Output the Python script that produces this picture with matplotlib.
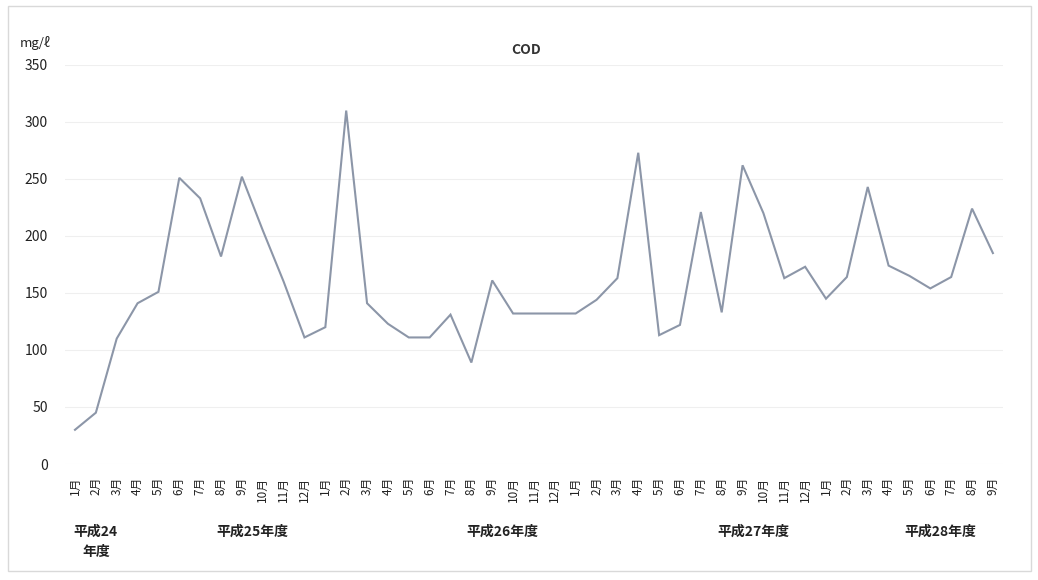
import matplotlib
matplotlib.use("Agg")
import matplotlib.pyplot as plt
from matplotlib.patches import Rectangle

plt.rcParams['font.family'] = ['Noto Sans CJK JP', 'DejaVu Sans']

# Monthly labels: H24 (Jan-Mar), H25-H27 (Apr-Mar), H28 (Apr-Sep)
months = (["1月", "2月", "3月"]
          + ["4月", "5月", "6月", "7月", "8月", "9月", "10月", "11月", "12月", "1月", "2月", "3月"] * 3
          + ["4月", "5月", "6月", "7月", "8月", "9月"])

# COD (mg/ℓ)
cod = [30, 45, 110, 141, 151,
       251, 233, 182, 252, 205, 160, 111, 120, 310, 141,
       123, 111, 111, 131, 89, 161, 132, 132, 132, 132, 144, 163,
       273, 113, 122, 221, 133, 262, 220, 163, 173, 145, 164, 243,
       174, 165, 154, 164, 224, 185]

# Fiscal-year group labels and the index ranges they span
year_labels = ["平成24\n年度", "平成25年度", "平成26年度", "平成27年度", "平成28年度"]
year_spans = [(0, 2), (3, 14), (15, 26), (27, 38), (39, 44)]

yticks = [0, 50, 100, 150, 200, 250, 300, 350]

fig = plt.figure(figsize=(10.38, 5.80), dpi=100)
ax = fig.add_axes([0.0622, 0.2, 0.9044, 0.688])

x = list(range(len(cod)))
ax.plot(x, cod, color="#8c96a8", linewidth=1.5, solid_joinstyle="miter")

ax.set_xlim(-0.5, len(cod) - 0.5)
ax.set_ylim(0, 350)
ax.set_yticks(yticks)
ax.set_yticklabels([str(v) for v in yticks], fontsize=10, color="#222222")
ax.set_xticks(x)
ax.set_xticklabels(months, rotation=90, fontsize=8.5, color="#222222", va="top")
ax.tick_params(axis="y", length=0, pad=12)
ax.tick_params(axis="x", length=0, pad=9)

for v in yticks:
    ax.axhline(v, color="#efefef", linewidth=0.8, zorder=0)

for s in ax.spines.values():
    s.set_visible(False)

ax.set_title("COD", fontsize=10, fontweight="bold", color="#333333", pad=8, x=0.492)
fig.text(0.019, 0.925, "mg/ℓ", fontsize=9.5, color="#222222", ha="left", va="center")

# Fiscal-year labels under the month ticks
for lab, (a, b) in zip(year_labels, year_spans):
    xc = (a + b) / 2
    ax.annotate(lab, xy=(xc, 0), xycoords=("data", "axes fraction"),
                xytext=(0, -44), textcoords="offset points",
                ha="center", va="top", fontsize=10, fontweight="bold",
                color="#222222", linespacing=1.5)

# Thin outer frame of the chart area
fig.patches.append(Rectangle((0.008, 0.015), 0.985, 0.975, transform=fig.transFigure,
                             fill=False, edgecolor="#d9d9d9", linewidth=1.0))

fig.savefig("out.png", dpi=100, facecolor="white")
